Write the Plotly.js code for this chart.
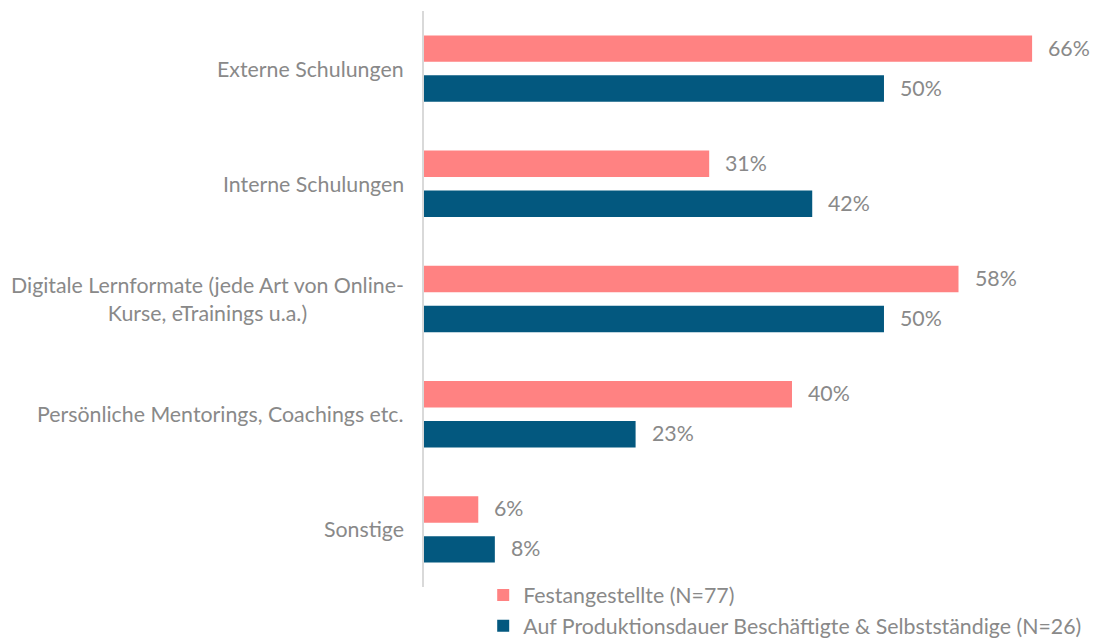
<!DOCTYPE html>
<html>
<head>
<meta charset="utf-8">
<script src="https://cdn.plot.ly/plotly-3.0.1.min.js"></script>
<style>html,body{margin:0;padding:0;background:#fff;}#chart{width:1093px;height:639px;}</style>
</head>
<body>
<div id="chart"></div>
<script>
const categories = [
  "Externe Schulungen",
  "Interne Schulungen",
  "Digitale Lernformate (jede Art von Online-<br>Kurse, eTrainings u.a.)",
  "Persönliche Mentorings, Coachings etc.",
  "Sonstige"
];
const festangestellte = [66.1, 31.0, 58.1, 40.0, 5.9];
const produktionsdauer = [50.0, 42.2, 50.0, 23.0, 7.7];
const festLabels = ["66%", "31%", "58%", "40%", "6%"];
const prodLabels = ["50%", "42%", "50%", "23%", "8%"];
const seriesNames = ["Festangestellte (N=77)", "Auf Produktionsdauer Beschäftigte & Selbstständige (N=26)"];
const colors = ["#FF8282", "#03587F"];

const textColor = "#898989";
const fontFamily = "Lato, 'Open Sans', sans-serif";
const fs = 21.33;

const series = [festangestellte, produktionsdauer];
const labels = [festLabels, prodLabels];

const traces = series.map((vals, i) => ({
  type: "bar",
  orientation: "h",
  name: seriesNames[i],
  x: vals,
  y: categories,
  marker: {color: colors[i]},
  hoverinfo: "x+name"
}));

const annotations = [];
series.forEach((vals, i) => {
  vals.forEach((v, j) => {
    annotations.push({
      x: v, y: categories[j], xref: "x", yref: "y",
      text: labels[i][j], showarrow: false,
      xanchor: "left", yanchor: "middle",
      xshift: 14, yshift: i === 0 ? 21 : -19,
      font: {family: fontFamily, size: fs, color: textColor}
    });
  });
});
categories.forEach((c) => {
  annotations.push({
    x: 0, xref: "paper", y: c, yref: "y",
    text: c, showarrow: false, align: "center",
    xanchor: "right", yanchor: "middle", xshift: -18, yshift: 0,
    font: {family: fontFamily, size: fs, color: textColor}
  });
});

const layout = {
  width: 1093, height: 639,
  margin: {l: 424, r: 0, t: 10.6, b: 52, autoexpand: false},
  paper_bgcolor: "#fff", plot_bgcolor: "#fff",
  barmode: "group",
  bargap: 0.306,
  bargroupgap: 0.338,
  font: {family: fontFamily, size: fs, color: textColor},
  xaxis: {range: [0, 72.72], showgrid: false, zeroline: false, showticklabels: false, showline: false, fixedrange: true},
  yaxis: {autorange: "reversed", showticklabels: false, showgrid: false, zeroline: false,
          showline: true, linecolor: "#D9D9D9", linewidth: 2, ticks: ""},
  showlegend: true,
  legend: {orientation: "v", x: 0.0885, xanchor: "left", y: 0.0215, yanchor: "top",
           font: {family: fontFamily, size: fs, color: textColor}, bgcolor: "rgba(0,0,0,0)", itemwidth: 30,
           tracegroupgap: 0},
  annotations: annotations
};

Plotly.newPlot("chart", traces, layout, {displayModeBar: false});
</script>
</body>
</html>
